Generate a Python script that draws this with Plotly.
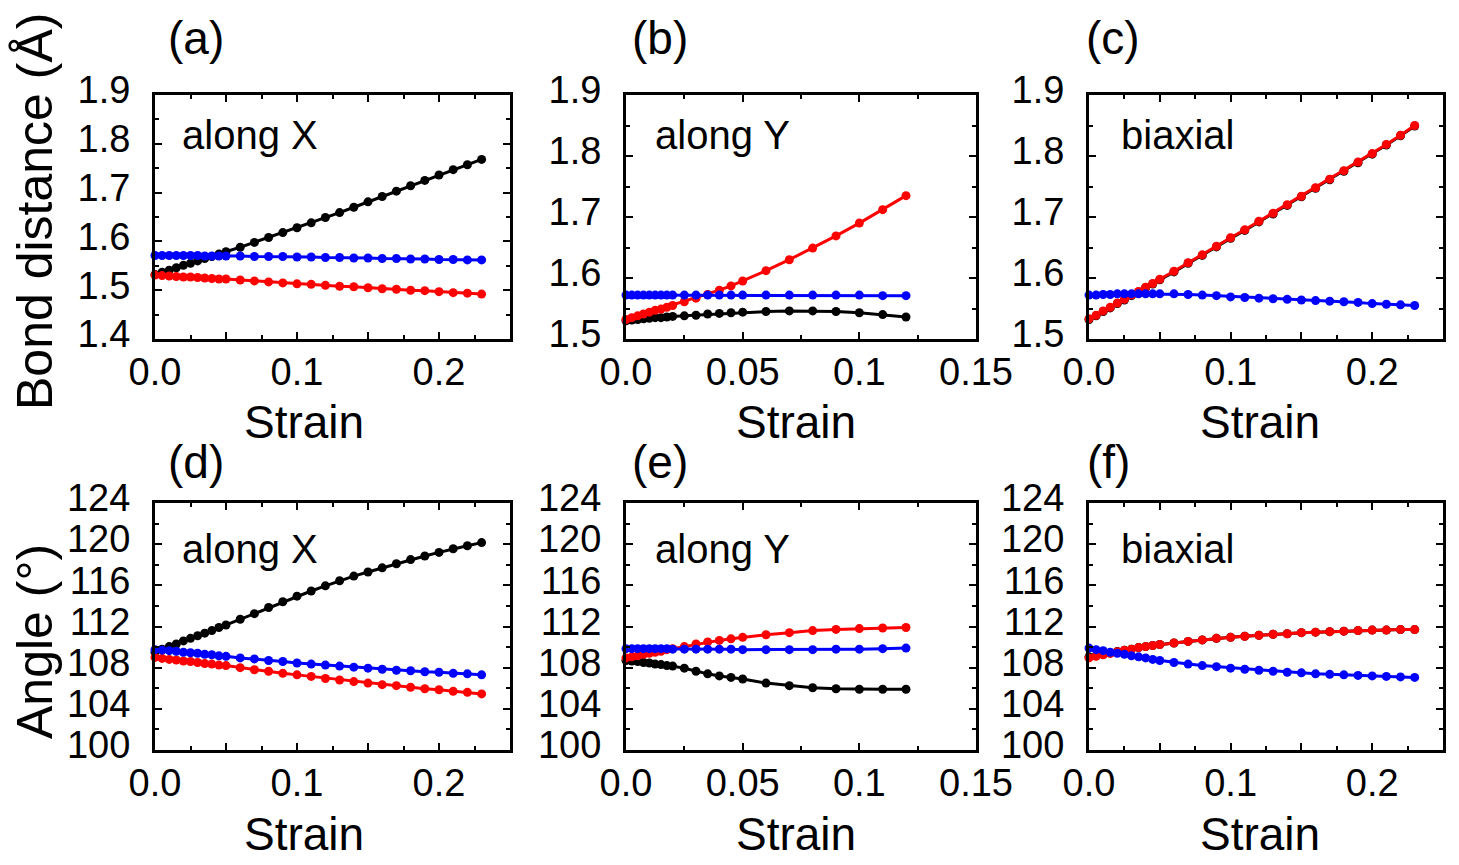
import plotly.graph_objects as go

# ---------------- data ----------------
# strain grids
strain_xc = [0, 0.005, 0.01, 0.015, 0.02, 0.025, 0.03, 0.035, 0.04, 0.045, 0.05,
             0.06, 0.07, 0.08, 0.09, 0.10, 0.11, 0.12, 0.13, 0.14, 0.15, 0.16,
             0.17, 0.18, 0.19, 0.20, 0.21, 0.22, 0.23]
strain_y = [0, 0.0025, 0.005, 0.0075, 0.01, 0.0125, 0.015, 0.0175, 0.02, 0.025,
            0.03, 0.035, 0.04, 0.045, 0.05, 0.06, 0.07, 0.08, 0.09, 0.10, 0.11, 0.12]

# (a) bond distance, along X
a_black = [1.532, 1.537, 1.541, 1.546, 1.551, 1.555, 1.560, 1.565, 1.569, 1.574, 1.579,
           1.588, 1.598, 1.608, 1.618, 1.628, 1.638, 1.649, 1.659, 1.670, 1.681, 1.692,
           1.703, 1.714, 1.725, 1.736, 1.747, 1.757, 1.768]
a_blue = [1.571, 1.571, 1.571, 1.571, 1.571, 1.571, 1.571, 1.570, 1.570, 1.570, 1.570,
          1.570, 1.569, 1.569, 1.569, 1.568, 1.568, 1.567, 1.567, 1.566, 1.566, 1.565,
          1.565, 1.564, 1.564, 1.563, 1.563, 1.562, 1.562]
a_red = [1.531, 1.530, 1.529, 1.528, 1.527, 1.527, 1.526, 1.525, 1.524, 1.523, 1.523,
         1.521, 1.519, 1.517, 1.515, 1.513, 1.512, 1.510, 1.508, 1.507, 1.505, 1.503,
         1.502, 1.500, 1.499, 1.497, 1.495, 1.494, 1.492]

# (b) bond distance, along Y
b_black = [1.530, 1.531, 1.532, 1.533, 1.534, 1.535, 1.535, 1.536, 1.537, 1.538,
           1.539, 1.541, 1.542, 1.543, 1.544, 1.545, 1.546, 1.546, 1.545, 1.543, 1.540, 1.536]
b_blue = [1.572, 1.572, 1.572, 1.572, 1.572, 1.572, 1.572, 1.572, 1.572, 1.572,
          1.572, 1.572, 1.572, 1.572, 1.572, 1.572, 1.572, 1.572, 1.572, 1.572, 1.571, 1.571]
b_red = [1.532, 1.535, 1.538, 1.541, 1.544, 1.547, 1.549, 1.552, 1.555, 1.561,
         1.567, 1.573, 1.580, 1.587, 1.595, 1.612, 1.630, 1.649, 1.669, 1.690, 1.712, 1.735]

# (c) bond distance, biaxial
c_black = [1.532, 1.538, 1.545, 1.551, 1.558, 1.564, 1.571, 1.577, 1.584, 1.590, 1.597,
           1.610, 1.624, 1.637, 1.651, 1.665, 1.678, 1.692, 1.705, 1.719, 1.733, 1.747,
           1.761, 1.775, 1.789, 1.803, 1.818, 1.833, 1.849]
c_blue = [1.572, 1.572, 1.573, 1.573, 1.574, 1.574, 1.574, 1.574, 1.574, 1.574, 1.574,
          1.574, 1.573, 1.572, 1.571, 1.569, 1.568, 1.567, 1.566, 1.565, 1.564, 1.563,
          1.562, 1.561, 1.560, 1.558, 1.557, 1.556, 1.555]
c_red = [1.533, 1.539, 1.546, 1.552, 1.559, 1.565, 1.572, 1.578, 1.585, 1.591, 1.598,
         1.611, 1.625, 1.638, 1.652, 1.666, 1.679, 1.693, 1.706, 1.720, 1.734, 1.748,
         1.762, 1.776, 1.790, 1.804, 1.819, 1.834, 1.850]

# (d) angle, along X
d_black = [109.5, 109.8, 110.05, 110.3, 110.6, 110.85, 111.1, 111.35, 111.6, 111.9, 112.15,
           112.7, 113.25, 113.85, 114.4, 114.95, 115.45, 115.95, 116.45, 116.9, 117.3, 117.7,
           118.1, 118.5, 118.85, 119.2, 119.55, 119.85, 120.15]
d_blue = [109.75, 109.7, 109.65, 109.6, 109.5, 109.45, 109.4, 109.3, 109.25, 109.15, 109.1,
          108.95, 108.85, 108.7, 108.6, 108.45, 108.35, 108.25, 108.15, 108.05, 107.95, 107.85,
          107.75, 107.7, 107.6, 107.55, 107.45, 107.4, 107.3]
d_red = [109.0, 108.9, 108.8, 108.75, 108.65, 108.6, 108.5, 108.4, 108.35, 108.25, 108.2,
         108.0, 107.8, 107.65, 107.45, 107.3, 107.15, 106.95, 106.8, 106.65, 106.5, 106.35,
         106.25, 106.1, 105.95, 105.85, 105.7, 105.6, 105.45]

# (e) angle, along Y
e_black = [108.7, 108.65, 108.6, 108.5, 108.45, 108.35, 108.3, 108.2, 108.15, 107.95,
           107.65, 107.4, 107.2, 107.05, 106.9, 106.5, 106.25, 106.05, 105.95, 105.9, 105.9, 105.9]
e_blue = [109.85, 109.85, 109.85, 109.85, 109.85, 109.85, 109.85, 109.85, 109.8, 109.8,
          109.8, 109.8, 109.8, 109.8, 109.75, 109.75, 109.75, 109.75, 109.8, 109.8, 109.85, 109.9]
e_red = [108.95, 109.05, 109.15, 109.3, 109.4, 109.5, 109.6, 109.75, 109.85, 110.05,
         110.3, 110.5, 110.65, 110.8, 110.95, 111.2, 111.4, 111.6, 111.72, 111.8, 111.85, 111.9]

# (f) angle, biaxial
f_black = [109.05, 109.15, 109.3, 109.42, 109.56, 109.7, 109.8, 109.95, 110.05, 110.15, 110.25,
           110.4, 110.55, 110.7, 110.85, 110.95, 111.05, 111.15, 111.25, 111.3, 111.4, 111.45,
           111.5, 111.55, 111.6, 111.65, 111.65, 111.7, 111.7]
f_blue = [109.9, 109.75, 109.65, 109.5, 109.4, 109.3, 109.15, 109.05, 108.95, 108.8, 108.7,
          108.5, 108.35, 108.2, 108.1, 107.95, 107.85, 107.75, 107.65, 107.55, 107.5, 107.4,
          107.35, 107.3, 107.25, 107.2, 107.15, 107.1, 107.05]
f_red = [108.95, 109.1, 109.25, 109.4, 109.55, 109.7, 109.8, 109.95, 110.05, 110.15, 110.25,
         110.4, 110.55, 110.7, 110.85, 110.95, 111.05, 111.15, 111.25, 111.3, 111.4, 111.45,
         111.5, 111.55, 111.6, 111.65, 111.65, 111.7, 111.7]

panel_letters = ["(a)", "(b)", "(c)", "(d)", "(e)", "(f)"]
panel_texts = ["along X", "along Y", "biaxial", "along X", "along Y", "biaxial"]

xticks_wide = [0, 0.05, 0.1, 0.15, 0.2]
xticktext_wide = ["0.0", "", "0.1", "", "0.2"]
xticks_narrow = [0, 0.05, 0.1, 0.15]
xticktext_narrow = ["0.0", "0.05", "0.1", "0.15"]
yticks_a = [1.4, 1.5, 1.6, 1.7, 1.8, 1.9]
yticks_bc = [1.5, 1.6, 1.7, 1.8, 1.9]
yticks_angle = [100, 104, 108, 112, 116, 120, 124]

# ---------------- layout geometry (pixels) ----------------
W, H = 1459, 865
cols_px = [(155, 510), (626, 976), (1089, 1443)]
rows_px = [(95, 339), (503, 750)]

def px_x(p):
    return p / W

def px_y(p):
    return 1 - p / H

FONT = "Liberation Sans, Arial, sans-serif"
COLORS = {"black": "#000000", "blue": "#0000ff", "red": "#ff0000"}

panels = [
    (strain_xc, a_black, a_blue, a_red),
    (strain_y, b_black, b_blue, b_red),
    (strain_xc, c_black, c_blue, c_red),
    (strain_xc, d_black, d_blue, d_red),
    (strain_y, e_black, e_blue, e_red),
    (strain_xc, f_black, f_blue, f_red),
]

fig = go.Figure()
for i, (xs, yk, yb, yr) in enumerate(panels):
    ax = "" if i == 0 else str(i + 1)
    for name, ys in (("black", yk), ("red", yr), ("blue", yb)):
        fig.add_trace(go.Scatter(
            x=xs, y=ys, mode="lines+markers",
            line=dict(color=COLORS[name], width=3),
            marker=dict(color=COLORS[name], size=9),
            xaxis="x" + ax, yaxis="y" + ax,
            showlegend=False, cliponaxis=False,
        ))

layout = dict(
    width=W, height=H, autosize=False,
    margin=dict(l=0, r=0, t=0, b=0, autoexpand=False),
    paper_bgcolor="white", plot_bgcolor="white",
    showlegend=False,
)

common = dict(
    showline=True, linewidth=3, linecolor="black", mirror="allticks",
    ticks="inside", ticklen=7, tickwidth=2, tickcolor="black",
    showgrid=False, zeroline=False, automargin=False,
    tickfont=dict(family=FONT, size=38, color="black"),
)

for i in range(6):
    r, c = divmod(i, 3)
    ax = "" if i == 0 else str(i + 1)
    x0, x1 = cols_px[c]
    y0, y1 = rows_px[r]
    wide = c != 1
    xa = dict(common)
    xa.update(
        domain=[px_x(x0), px_x(x1)],
        anchor="y" + ax,
        range=[0, 0.25] if wide else [0, 0.15],
        tickmode="array",
        tickvals=xticks_wide if wide else xticks_narrow,
        ticktext=xticktext_wide if wide else xticktext_narrow,
        minor=dict(ticks="inside", ticklen=4, tickwidth=2, tickcolor="black", dtick=0.025, showgrid=False),
        ticklabelstandoff=-3,
    )
    if r == 0:
        yv = yticks_a if c == 0 else yticks_bc
        yrange = [1.4, 1.9] if c == 0 else [1.5, 1.9]
        ytt = ["%.1f" % v for v in yv]
        ydt = 0.05
    else:
        yv = yticks_angle
        yrange = [100, 124]
        ytt = [str(v) for v in yv]
        ydt = 2
    ya = dict(common)
    ya.update(
        domain=[px_y(y1), px_y(y0)],
        anchor="x" + ax,
        range=yrange,
        tickmode="array", tickvals=yv, ticktext=ytt,
        minor=dict(ticks="inside", ticklen=4, tickwidth=2, tickcolor="black", dtick=ydt, showgrid=False),
        ticklabelstandoff=14,
        ticklabelshift=-5,
    )
    layout["xaxis" + ax] = xa
    layout["yaxis" + ax] = ya

annotations = []
letter_pos = [(196, 38), (660, 38), (1113, 38), (196, 462), (660, 462), (1108, 462)]
for txt, (px, py) in zip(panel_letters, letter_pos):
    annotations.append(dict(text=txt, x=px_x(px), y=px_y(py), xref="paper", yref="paper",
                            xanchor="center", yanchor="middle", showarrow=False,
                            font=dict(family=FONT, size=46, color="black")))
text_pos = [(180, 135), (653, 135), (1119, 135), (180, 549), (653, 549), (1119, 549)]
for txt, (px, py) in zip(panel_texts, text_pos):
    annotations.append(dict(text=txt, x=px_x(px), y=px_y(py), xref="paper", yref="paper",
                            xanchor="left", yanchor="middle", showarrow=False,
                            font=dict(family=FONT, size=40, color="black")))
strain_pos = [(304, 422), (796, 422), (1260, 422), (304, 834), (796, 834), (1260, 834)]
for (px, py) in strain_pos:
    annotations.append(dict(text="Strain", x=px_x(px), y=px_y(py), xref="paper", yref="paper",
                            xanchor="center", yanchor="middle", showarrow=False,
                            font=dict(family=FONT, size=46, color="black")))
annotations.append(dict(text="Bond distance (Å)", x=px_x(35), y=px_y(212), xref="paper", yref="paper",
                        xanchor="center", yanchor="middle", textangle=-90, showarrow=False,
                        font=dict(family=FONT, size=50, color="black")))
annotations.append(dict(text="Angle (°)", x=px_x(35), y=px_y(642), xref="paper", yref="paper",
                        xanchor="center", yanchor="middle", textangle=-90, showarrow=False,
                        font=dict(family=FONT, size=50, color="black")))
layout["annotations"] = annotations

fig.update_layout(**layout)
fig.write_html("out.html")
